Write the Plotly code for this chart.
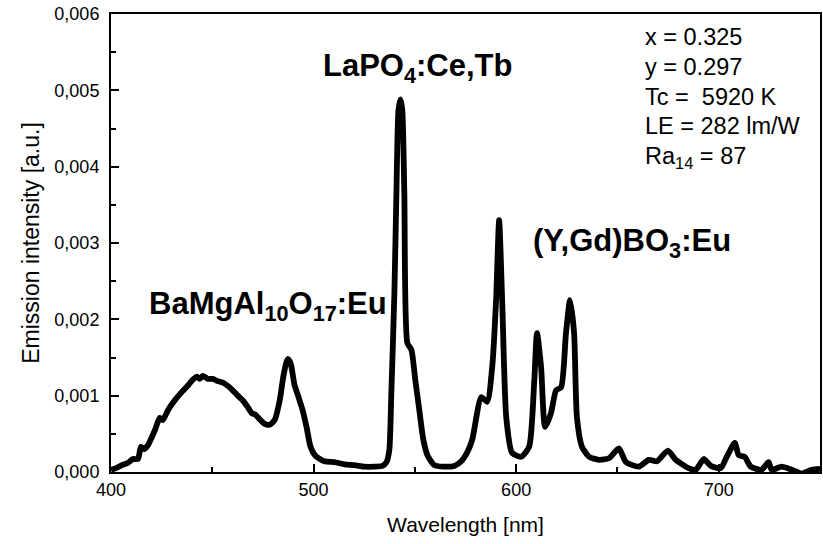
import plotly.graph_objects as go

wavelength = [400, 402.5, 405.4, 408.4, 410.8, 413.3, 414.8, 416.3, 418.2, 421.7, 424.1, 425.6, 428.1,
              431.5, 435, 437.9, 440.4, 442.4, 443.8, 445.3, 447.8, 450.2, 452.7, 455.2, 457.6, 460.1,
              462.6, 465, 467.5, 469.5, 471.4, 473.4, 475.9, 478.3, 480.8, 483.3, 485.2, 487.2, 488.7,
              490.6, 492.6, 494.6, 496.6, 498.5, 501, 505.4, 510.3, 515.3, 520.2, 525.1, 530, 534,
              536, 537.4, 538.4, 539.9, 540.9, 541.9, 542.9, 543.8, 544.8, 546.3, 548.3, 550.2, 552.2,
              554.2, 556.2, 559.6, 564.5, 569.5, 572.9, 575.9, 578.3, 582.8, 585.7, 588.2, 590.1,
              591.6, 593.1, 595.1, 598, 602.5, 606.4, 608.9, 610.3, 612.3, 614.3, 617.2, 619.7, 622.2,
              624.6, 626.6, 628.6, 630, 632.5, 636, 640.9, 645.8, 650.7, 654.2, 660.6, 665.5, 669.5,
              674.9, 678.8, 685.2, 688.7, 692.6, 696.1, 701, 704, 707.9, 709.9, 712.8, 715.8, 721.2,
              724.6, 726.1, 731, 736, 740.9, 745.8, 750]

intensity = [0.00003, 0.00005, 0.00009, 0.00012, 0.00017, 0.00017, 0.00033, 0.00030, 0.00035, 0.00055,
             0.00071, 0.00068, 0.00081, 0.00094, 0.00105, 0.00113, 0.00121, 0.00125, 0.00122, 0.00126,
             0.00122, 0.00122, 0.00119, 0.00117, 0.00113, 0.00107, 0.00100, 0.00094, 0.00085, 0.00077,
             0.00075, 0.00069, 0.00063, 0.00062, 0.00068, 0.00094, 0.00127, 0.00148, 0.00142, 0.00114,
             0.00098, 0.00081, 0.00058, 0.00033, 0.00021, 0.00014, 0.00013, 0.00010, 0.00009, 0.00007,
             0.00007, 0.00008,
             0.00013, 0.00029, 0.00104, 0.00235, 0.00366, 0.00474, 0.00488, 0.00474, 0.00366, 0.00169,
             0.00160, 0.00121, 0.00081, 0.00042, 0.00022, 0.00009, 0.00007, 0.00008, 0.00014, 0.00026,
             0.00042, 0.00098, 0.00092, 0.00138, 0.00225, 0.00330, 0.00225, 0.00072, 0.00025, 0.00020,
             0.00033, 0.00117, 0.00182, 0.00138, 0.00059, 0.00077, 0.00107, 0.00111, 0.00182, 0.00225,
             0.00182, 0.00072, 0.00033, 0.00020, 0.00016, 0.00018, 0.00031, 0.00013, 0.00007, 0.00016,
             0.00014, 0.00028, 0.00016, 0.00005, 0.00003, 0.00017, 0.00008, 0.00005, 0.00020, 0.00038,
             0.00022, 0.00020, 0.00007, 0.00003, 0.00013, 0.00003, 0.00007, 0.00003, -0.00002, 0.00003,
             0.00004]

phosphor_labels = ["BaMgAl<sub>10</sub>O<sub>17</sub>:Eu", "LaPO<sub>4</sub>:Ce,Tb", "(Y,Gd)BO<sub>3</sub>:Eu"]
info_lines = ["x = 0.325", "y = 0.297", "Tc =  5920 K", "LE = 282 lm/W", "Ra<sub>14</sub> = 87"]

FONT = "Liberation Sans, Arial, sans-serif"

fig = go.Figure()
fig.add_trace(go.Scatter(x=wavelength, y=intensity, mode="lines",
                         line=dict(color="black", width=5.8, shape="spline", smoothing=0.6),
                         showlegend=False, hoverinfo="skip"))

W, H = 711.0, 458.0
def px(xp):
    return (xp - 111) / W
def py(yp):
    return (472 - yp) / H

label_pos = [(147, 306), (322, 68), (532, 243)]
for txt, (lx, ly) in zip(phosphor_labels, label_pos):
    fig.add_annotation(text="<b>" + txt + "</b>", x=px(lx), y=py(ly), xref="paper", yref="paper",
                       xanchor="left", yanchor="middle", showarrow=False,
                       font=dict(family=FONT, size=31, color="black"))

info_y = [37, 67, 97, 126, 157]
for txt, yy in zip(info_lines, info_y):
    fig.add_annotation(text=txt, x=px(644), y=py(yy), xref="paper", yref="paper",
                       xanchor="left", yanchor="middle", showarrow=False,
                       font=dict(family=FONT, size=23.5, color="black"))

fig.update_layout(
    width=823, height=544,
    margin=dict(l=111, r=1, t=14, b=72),
    paper_bgcolor="white", plot_bgcolor="white",
    separators=",.",
    font=dict(family=FONT, size=18, color="black"),
    xaxis=dict(range=[400, 750], tickmode="linear", tick0=400, dtick=100,
               ticks="inside", ticklen=8, tickwidth=1.5, tickcolor="black",
               minor=dict(ticks="inside", ticklen=5, dtick=50, tickwidth=1.5, tickcolor="black"),
               showline=True, linecolor="black", linewidth=2, mirror=True,
               showgrid=False, zeroline=False,
               tickfont=dict(size=18),
               title=dict(text="Wavelength [nm]", font=dict(size=21), standoff=19)),
    yaxis=dict(range=[0, 0.006], tickmode="linear", tick0=0, dtick=0.001, tickformat=".3f",
               ticks="inside", ticklen=8, tickwidth=1.5, tickcolor="black",
               minor=dict(ticks="inside", ticklen=5, dtick=0.0005, tickwidth=1.5, tickcolor="black"),
               showline=True, linecolor="black", linewidth=2, mirror=True,
               showgrid=False, zeroline=False,
               tickfont=dict(size=18), ticklabelstandoff=6,
               title=dict(text="Emission intensity [a.u.]", font=dict(size=23), standoff=8)),
)

fig.write_html("out.html")
